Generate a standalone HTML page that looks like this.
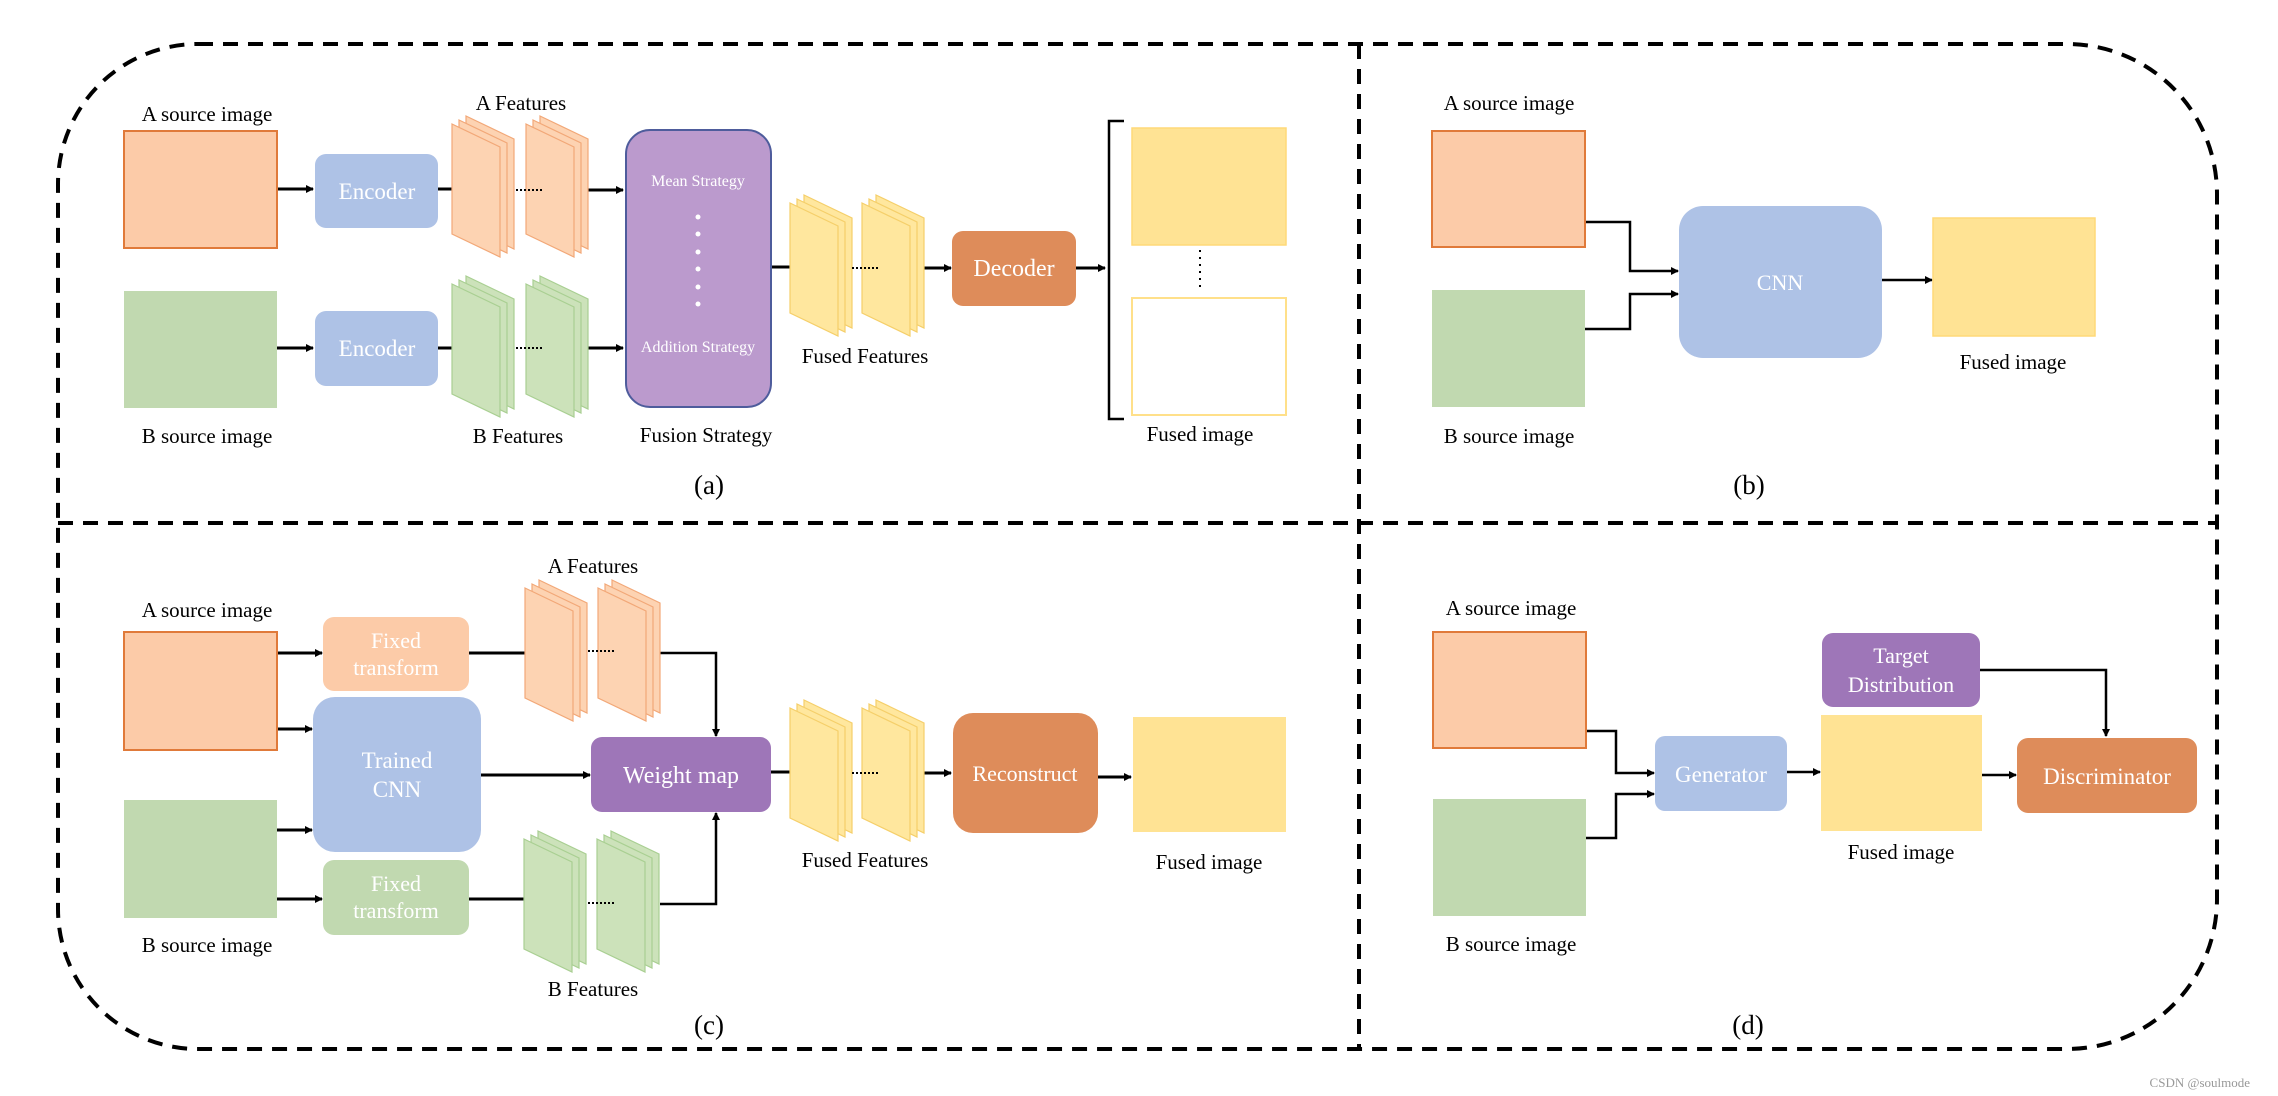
<!DOCTYPE html>
<html><head><meta charset="utf-8"><style>
html,body{margin:0;padding:0;background:#fff;}
svg{display:block;}
text{font-family:"Liberation Serif",serif;}
</style></head><body>
<svg width="2278" height="1096" viewBox="0 0 2278 1096" xmlns="http://www.w3.org/2000/svg">
<defs>
<marker id="ar" markerWidth="8" markerHeight="8" refX="7" refY="4" orient="auto" markerUnits="userSpaceOnUse">
<path d="M0,0 L8,4 L0,8 z" fill="#000"/></marker>
<g id="sA" fill="#FDD3B2" stroke="#F2A878" stroke-width="1.2">
<polygon points="14,0 62,23 62,133 14,110"/>
<polygon points="7,4 55,27 55,137 7,114"/>
<polygon points="0,8 48,31 48,141 0,118"/>
</g>
<g id="sB" fill="#CCE2BA" stroke="#A9CF92" stroke-width="1.2">
<polygon points="14,0 62,23 62,133 14,110"/>
<polygon points="7,4 55,27 55,137 7,114"/>
<polygon points="0,8 48,31 48,141 0,118"/>
</g>
<g id="sY" fill="#FFE79E" stroke="#F5CF6A" stroke-width="1.2">
<polygon points="14,0 62,23 62,133 14,110"/>
<polygon points="7,4 55,27 55,137 7,114"/>
<polygon points="0,8 48,31 48,141 0,118"/>
</g>
</defs>

<!-- outer dashed border -->
<path d="M198,44 L2067,44 A150,150 0 0 1 2217,194 L2217,899 A150,150 0 0 1 2067,1049 L198,1049 A140,140 0 0 1 58,909 L58,184 A140,140 0 0 1 198,44 Z" fill="none" stroke="#000" stroke-width="4" stroke-dasharray="15,10"/>
<line x1="1359" y1="44" x2="1359" y2="1049" stroke="#000" stroke-width="4" stroke-dasharray="15,10"/>
<line x1="58" y1="523" x2="2217" y2="523" stroke="#000" stroke-width="4" stroke-dasharray="15,10"/>

<g stroke="#000" stroke-width="3" fill="none">
<!-- panel a -->
<line x1="277" y1="189" x2="313" y2="189" marker-end="url(#ar)"/>
<line x1="438" y1="189" x2="466" y2="189" marker-end="url(#ar)"/>
<line x1="588" y1="190" x2="623" y2="190" marker-end="url(#ar)"/>
<line x1="277" y1="348" x2="313" y2="348" marker-end="url(#ar)"/>
<line x1="438" y1="348" x2="466" y2="348" marker-end="url(#ar)"/>
<line x1="588" y1="348" x2="623" y2="348" marker-end="url(#ar)"/>
<line x1="771" y1="267" x2="805" y2="267" marker-end="url(#ar)"/>
<line x1="924" y1="268" x2="951" y2="268" marker-end="url(#ar)"/>
<line x1="1076" y1="268" x2="1105" y2="268" marker-end="url(#ar)"/>
<!-- panel c -->
<line x1="277" y1="653" x2="322" y2="653" marker-end="url(#ar)"/>
<line x1="277" y1="729" x2="312" y2="729" marker-end="url(#ar)"/>
<line x1="277" y1="830" x2="312" y2="830" marker-end="url(#ar)"/>
<line x1="277" y1="899" x2="322" y2="899" marker-end="url(#ar)"/>
<line x1="469" y1="653" x2="537" y2="653" marker-end="url(#ar)"/>
<line x1="469" y1="899" x2="537" y2="899" marker-end="url(#ar)"/>
<line x1="481" y1="775" x2="590" y2="775" marker-end="url(#ar)"/>
<line x1="771" y1="772" x2="806" y2="772" marker-end="url(#ar)"/>
<line x1="924" y1="773" x2="951" y2="773" marker-end="url(#ar)"/>
<line x1="1098" y1="777" x2="1131" y2="777" marker-end="url(#ar)"/>
</g>
<g stroke="#000" stroke-width="2.5" fill="none">
<polyline points="660,653 716,653 716,736" marker-end="url(#ar)"/>
<polyline points="660,904 716,904 716,813" marker-end="url(#ar)"/>
<!-- panel b -->
<polyline points="1585,222 1630,222 1630,271 1678,271" marker-end="url(#ar)"/>
<polyline points="1585,329 1630,329 1630,294 1678,294" marker-end="url(#ar)"/>
<line x1="1882" y1="280" x2="1932" y2="280" marker-end="url(#ar)"/>
<!-- panel d -->
<polyline points="1586,731 1616,731 1616,773 1654,773" marker-end="url(#ar)"/>
<polyline points="1586,838 1616,838 1616,794 1654,794" marker-end="url(#ar)"/>
<line x1="1787" y1="772" x2="1820" y2="772" marker-end="url(#ar)"/>
<line x1="1982" y1="775" x2="2016" y2="775" marker-end="url(#ar)"/>
<polyline points="1980,670 2106,670 2106,736" marker-end="url(#ar)"/>
<!-- bracket -->
<polyline points="1124,121 1109,121 1109,419 1124,419"/>
</g>

<!-- panel a shapes -->
<rect x="124" y="131" width="153" height="117" fill="#FCCBA8" stroke="#E07A3A" stroke-width="2"/>
<rect x="124" y="291" width="153" height="117" fill="#C1D9B0"/>
<rect x="315" y="154" width="123" height="74" rx="11" fill="#AEC2E6"/>
<rect x="315" y="311" width="123" height="75" rx="11" fill="#AEC2E6"/>
<use href="#sA" x="452" y="116"/><use href="#sA" x="526" y="116"/>
<use href="#sB" x="452" y="276"/><use href="#sB" x="526" y="276"/>
<rect x="626" y="130" width="145" height="277" rx="24" fill="#BB9ACD" stroke="#4E5C9C" stroke-width="2"/>
<use href="#sY" x="790" y="195"/><use href="#sY" x="862" y="195"/>
<rect x="952" y="231" width="124" height="75" rx="11" fill="#DE8C5A"/>
<rect x="1132" y="128" width="154" height="117" fill="#FFE394" stroke="#FFD978" stroke-width="1.5"/>
<rect x="1132" y="298" width="154" height="117" fill="#fff" stroke="#FFE08A" stroke-width="2"/>
<line x1="1200" y1="250" x2="1200" y2="292" stroke="#000" stroke-width="2" stroke-dasharray="2,5"/>
<line x1="516" y1="190" x2="542" y2="190" stroke="#000" stroke-width="2" stroke-dasharray="2,2"/>
<line x1="516" y1="348" x2="542" y2="348" stroke="#000" stroke-width="2" stroke-dasharray="2,2"/>
<line x1="852" y1="268" x2="879" y2="268" stroke="#000" stroke-width="2" stroke-dasharray="2,2"/>
<g fill="#fff"><circle cx="698" cy="217" r="2.5"/><circle cx="698" cy="234" r="2.5"/><circle cx="698" cy="252" r="2.5"/><circle cx="698" cy="269" r="2.5"/><circle cx="698" cy="287" r="2.5"/><circle cx="698" cy="304" r="2.5"/></g>

<!-- panel c shapes -->
<rect x="124" y="632" width="153" height="118" fill="#FCCBA8" stroke="#E07A3A" stroke-width="2"/>
<rect x="124" y="800" width="153" height="118" fill="#C1D9B0"/>
<rect x="323" y="617" width="146" height="74" rx="11" fill="#FCCBA8"/>
<rect x="323" y="860" width="146" height="75" rx="11" fill="#C1D9B0"/>
<rect x="313" y="697" width="168" height="155" rx="22" fill="#AEC2E6"/>
<use href="#sA" x="525" y="580"/><use href="#sA" x="598" y="580"/>
<use href="#sB" x="524" y="831"/><use href="#sB" x="597" y="831"/>
<rect x="591" y="737" width="180" height="75" rx="11" fill="#9E76B8"/>
<use href="#sY" x="790" y="700"/><use href="#sY" x="862" y="700"/>
<rect x="953" y="713" width="145" height="120" rx="20" fill="#DE8C5A"/>
<rect x="1133" y="717" width="153" height="115" fill="#FFE394"/>
<line x1="588" y1="651" x2="614" y2="651" stroke="#000" stroke-width="2" stroke-dasharray="2,2"/>
<line x1="588" y1="903" x2="614" y2="903" stroke="#000" stroke-width="2" stroke-dasharray="2,2"/>
<line x1="852" y1="773" x2="879" y2="773" stroke="#000" stroke-width="2" stroke-dasharray="2,2"/>

<!-- panel b shapes -->
<rect x="1432" y="131" width="153" height="116" fill="#FCCBA8" stroke="#E07A3A" stroke-width="2"/>
<rect x="1432" y="290" width="153" height="117" fill="#C1D9B0"/>
<rect x="1679" y="206" width="203" height="152" rx="24" fill="#AEC2E6"/>
<rect x="1933" y="218" width="162" height="118" fill="#FFE394" stroke="#FFD978" stroke-width="1.5"/>

<!-- panel d shapes -->
<rect x="1433" y="632" width="153" height="116" fill="#FCCBA8" stroke="#E07A3A" stroke-width="2"/>
<rect x="1433" y="799" width="153" height="117" fill="#C1D9B0"/>
<rect x="1655" y="736" width="132" height="75" rx="10" fill="#AEC2E6"/>
<rect x="1822" y="633" width="158" height="74" rx="11" fill="#9E76B8"/>
<rect x="1821" y="715" width="161" height="116" fill="#FFE394"/>
<rect x="2017" y="738" width="180" height="75" rx="11" fill="#DE8C5A"/>

<!-- texts -->
<g font-size="21" fill="#000" text-anchor="middle">
<text x="207" y="121">A source image</text>
<text x="521" y="110">A Features</text>
<text x="207" y="443">B source image</text>
<text x="518" y="443">B  Features</text>
<text x="706" y="442">Fusion Strategy</text>
<text x="865" y="363">Fused Features</text>
<text x="1200" y="441">Fused image</text>
<text x="709" y="494" font-size="27">(a)</text>

<text x="207" y="617">A source image</text>
<text x="593" y="573">A Features</text>
<text x="207" y="952">B source image</text>
<text x="593" y="996">B Features</text>
<text x="865" y="867">Fused Features</text>
<text x="1209" y="869">Fused image</text>
<text x="709" y="1034" font-size="27">(c)</text>

<text x="1509" y="110">A source image</text>
<text x="1509" y="443">B source image</text>
<text x="2013" y="369">Fused image</text>
<text x="1749" y="494" font-size="27">(b)</text>

<text x="1511" y="615">A source image</text>
<text x="1511" y="951">B source image</text>
<text x="1901" y="859">Fused image</text>
<text x="1748" y="1034" font-size="27">(d)</text>
</g>
<g fill="#fff" text-anchor="middle">
<text x="377" y="199" font-size="23">Encoder</text>
<text x="377" y="356" font-size="23">Encoder</text>
<text x="698" y="186" font-size="16">Mean Strategy</text>
<text x="698" y="352" font-size="16">Addition Strategy</text>
<text x="1014" y="276" font-size="24">Decoder</text>
<text x="396" y="648" font-size="22">Fixed</text>
<text x="396" y="675" font-size="22">transform</text>
<text x="396" y="891" font-size="22">Fixed</text>
<text x="396" y="918" font-size="22">transform</text>
<text x="397" y="768" font-size="23">Trained</text>
<text x="397" y="797" font-size="23">CNN</text>
<text x="681" y="783" font-size="24">Weight map</text>
<text x="1025" y="781" font-size="22">Reconstruct</text>
<text x="1780" y="290" font-size="22">CNN</text>
<text x="1721" y="782" font-size="23">Generator</text>
<text x="1901" y="663" font-size="22">Target</text>
<text x="1901" y="692" font-size="22">Distribution</text>
<text x="2107" y="784" font-size="23">Discriminator</text>
</g>
<text x="2250" y="1087" font-family="Liberation Sans, sans-serif" font-size="13" fill="#999" text-anchor="end">CSDN @soulmode</text>
</svg>
</body></html>
